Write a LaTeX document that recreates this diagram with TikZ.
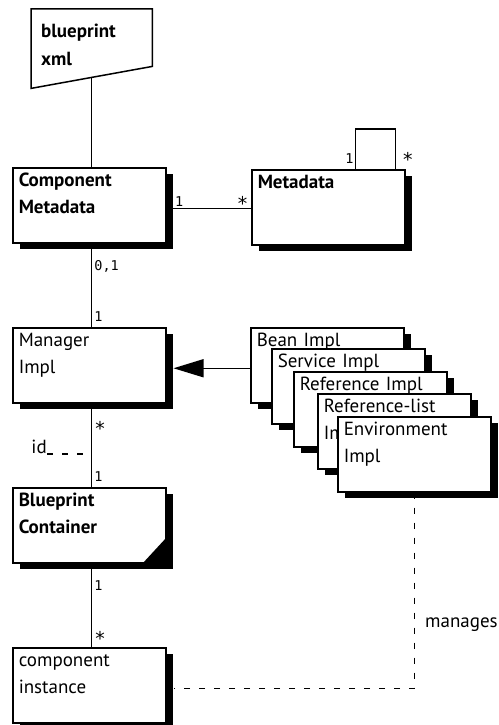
\documentclass[tikz,border=0pt]{standalone}
\usepackage{fontspec}
\setmainfont{PT Sans}
\newfontfamily\multfont{DejaVu Sans Mono}
\usetikzlibrary{shadows, arrows.meta, calc, positioning}

\begin{document}
\begin{tikzpicture}[x=1pt, y=-1pt,
	cls/.style={draw, line width=1.5pt, fill=white, anchor=north west,
		text width=141pt, align=left, inner xsep=6pt, inner ysep=5pt,
		text height=14pt, text depth=51pt, font=\fontsize{19}{27}\selectfont,
		drop shadow={shadow xshift=7pt, shadow yshift=-6pt, opacity=1, fill=black}},
	bcls/.style={cls, font=\fontsize{19}{27}\selectfont\bfseries},
	xmlbox/.style={anchor=north west, text width=101pt, align=left,
		inner xsep=10pt, inner ysep=14pt, text height=14pt, text depth=37pt,
		font=\fontsize{19}{28}\selectfont\bfseries},
	mult/.style={font=\multfont\fontsize{13.5}{13.5}\selectfont, inner sep=1pt},
	many/.style={font=\multfont\fontsize{19}{19}\selectfont, inner sep=0pt},
	assoc/.style={line width=1.5pt},
	dep/.style={line width=1.4pt, dash pattern=on 6pt off 9pt}]
\useasboundingbox (0,0) rectangle (498,725);

% blueprint xml
\node[xmlbox] (xml) at (31,9) {blueprint\\xml};
\draw[assoc] (xml.north west) -- (xml.north east) -- ($(xml.south east)+(0,-22)$)
	-- (xml.south west) -- cycle;
\coordinate (xmlfoot) at ($(xml.south west)!0.5!(xml.south east)+(0,-11)$);

% classes
\node[bcls] (cm) at (12,167) {Component\\Metadata};
\node[bcls] (md) at (251,169) {Metadata};
\node[cls] (mgr) at (12,327) {Manager\\Impl};
\node[bcls] (bpc) at (12,487) {Blueprint\\Container};
\fill (bpc.south east) -- ++(-24,0) -- ++(24,-26) -- cycle;
\node[cls] (ci) at (12,647) {component\\instance};

% the stack of implementations
\node[cls] (bean) at (250,327) {Bean Impl};
\node[cls] (svc) at (271,348) {Service Impl};
\node[cls] (ref) at (293,371) {Reference Impl};
\node[cls] (rlist) at (317,393) {Reference-list\\Impl};
\node[cls] (env) at (337,416) {Environment\\Impl};

% associations
\draw[assoc] (xmlfoot) -- (xmlfoot |- cm.north);
\draw[assoc] ([yshift=-3pt]cm.east) -- node[mult, pos=0.15, above] (cm1) {1}
	node[many, pos=0.9, above, yshift=-3pt] (mdn) {*} ($(cm.east -| md.west)+(0,3)$);
\draw[assoc] ([xshift=27pt]md.north) node[mult, above left, yshift=4pt] (md1) {1}
	-- ++(0,-40) -- ++(40,0) -- ++(0,40) node[many, above right, xshift=6pt, yshift=2pt] (mdm) {*};
\draw[assoc] (xmlfoot |- cm.south) -- node[mult, pos=0.27, right, xshift=1pt] (cm01) {0,1}
	node[mult, pos=0.88, right, xshift=1pt] (mgr1) {1} (xmlfoot |- mgr.north);
\draw[assoc] (xmlfoot |- mgr.south) -- node[many, pos=0.3, right, xshift=2pt] (mgrn) {*}
	node[mult, pos=0.88, right, xshift=1pt] (bpc1) {1} (xmlfoot |- bpc.north);
\draw[assoc] (xmlfoot |- bpc.south) -- node[mult, pos=0.27, right, xshift=1pt] (bpc1b) {1}
	node[many, pos=0.9, right, xshift=2pt] (cin) {*} (xmlfoot |- ci.north);

% qualifier
\node[anchor=base east, inner sep=0pt, font=\fontsize{19}{27}\selectfont] (id) at (47,453) {id};
\draw[dep] ([yshift=-1pt]id.base east) -- ([yshift=-1pt]id.base east -| xmlfoot);

% generalisation
\draw[assoc, -{Triangle[length=30pt, width=18pt]}] ([yshift=-3pt]bean.west)
	-- ($(bean.west -| mgr.east)+(7,3)$);

% manages
\draw[dep] (env.south) |- ($(ci.east)+(7,3)$);
\node[anchor=base west, inner sep=0pt, font=\fontsize{19}{27}\selectfont] (mng) at (425,627) {manages};
\end{tikzpicture}
\end{document}
